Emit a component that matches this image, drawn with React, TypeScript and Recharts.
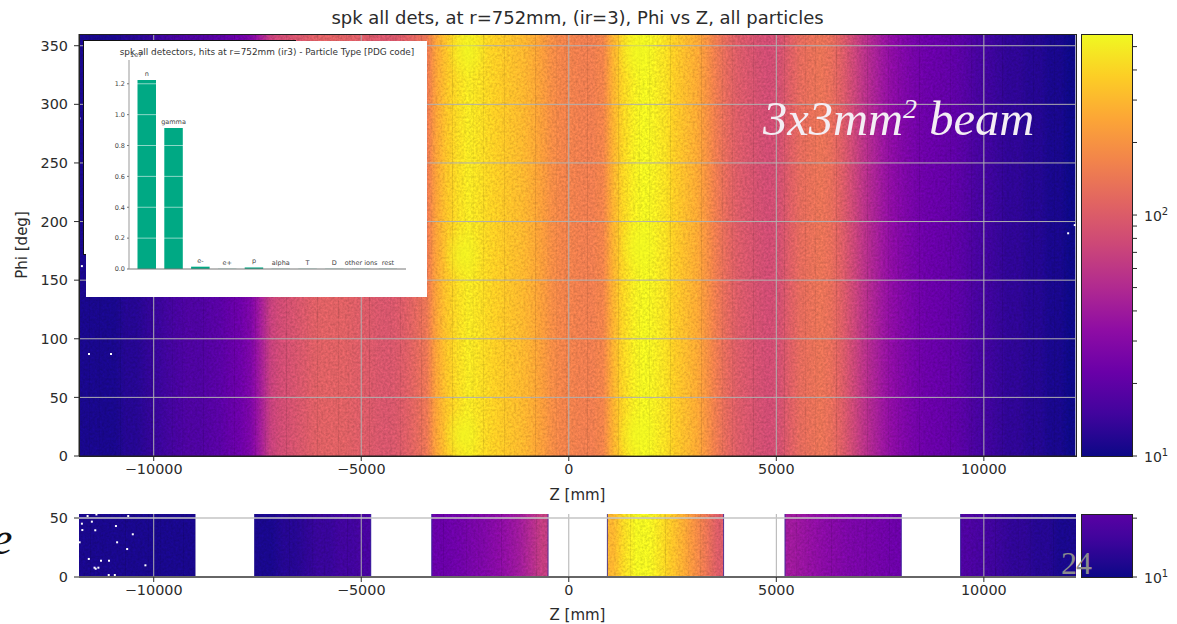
import React from 'react';
import {
  Bar,
  BarChart,
  ComposedChart,
  LabelList,
  ReferenceLine,
  Scatter,
  XAxis,
  YAxis,
} from 'recharts';

// hits per bin along Z, bins start at -11800mm and are 250mm wide
const mainFirstZ = -11800;
const mainBinWidth = 250;
const mainCounts = [
  11, 11, 11, 11, 12, 12, 13, 14, 15, 16, 17, 17, 18, 19, 21, 23, 27, 42, 69, 81,
  88, 95, 104, 108, 108, 108, 104, 100, 95, 92, 95, 104, 118, 143, 251, 348, 425, 480, 440, 400,
  365, 333, 308, 273, 232, 190, 168, 162, 155, 155, 168, 283, 408, 500, 545, 500, 440, 360, 308, 262,
  198, 148, 118, 100, 92, 85, 81, 85, 104, 122, 131, 137, 127, 104, 78, 59, 47, 38, 32, 28,
  25, 23, 22, 21, 20, 18, 16, 15, 14, 13, 13, 12, 12, 11, 11, 10,
];
const hotSpots = [
  { z: -2550, phi: 18 },
  { z: -2550, phi: 172 },
  { z: -2450, phi: 345 },
  { z: 1650, phi: 18 },
  { z: 1700, phi: 178 },
  { z: 1650, phi: 345 },
];
const mainSpecks = [
  { z: -11559, phi: 87 },
  { z: -11029, phi: 87 },
  { z: 12031, phi: 190 },
  { z: 12190, phi: 197 },
  { z: -11790, phi: 288 },
  { z: -11730, phi: 162 },
];

// lower panel: six detector stations, ten 280mm bins each
const stationStarts = [-11800, -7570, -3300, 930, 5210, 9440];
const stationBinWidth = 280;
const stationCounts = [
  [11, 11, 11, 11, 11, 11, 11, 11, 11, 11],
  [11, 11, 12, 12, 13, 14, 14, 15, 15, 16],
  [22, 23, 24, 26, 28, 31, 35, 40, 50, 66],
  [290, 430, 540, 540, 450, 350, 270, 195, 140, 100],
  [40, 37, 34, 31, 29, 27, 26, 25, 24, 23],
  [17, 16, 15, 14, 13, 13, 12, 12, 11, 11],
];
const lowerSpecks = [
  { z: -11593, phi: 51.7 }, { z: -11380, phi: 53 }, { z: -10614, phi: 51.7 },
  { z: -11490, phi: 46.9 }, { z: -11730, phi: 45.2 }, { z: -10910, phi: 43.2 },
  { z: -11720, phi: 39.8 }, { z: -11408, phi: 39.6 }, { z: -10504, phi: 36.2 },
  { z: -11785, phi: 29.4 }, { z: -10882, phi: 29.4 }, { z: -10640, phi: 23.7 },
  { z: -11564, phi: 15.3 }, { z: -11270, phi: 13.8 }, { z: -11077, phi: 13.8 },
  { z: -11426, phi: 7.9 }, { z: -11398, phi: 7 }, { z: -11333, phi: 7.9 },
  { z: -10200, phi: 9.9 }, { z: -11084, phi: 1.7 }, { z: -10937, phi: 1.7 },
];

const zTicks = [-10000, -5000, 0, 5000, 10000];
const phiTicks = [0, 50, 100, 150, 200, 250, 300, 350];
const lowerPhiTicks = [0, 50];
const cbarTicks = [10, 20, 30, 40, 50, 60, 70, 80, 90, 100, 200, 300, 400, 500];
const lowerCbarTicks = [10, 20];

// inset: particle types
const particleNames = ['n', 'gamma', 'e-', 'e+', 'p', 'alpha', 'T', 'D', 'other ions', 'rest'];
const particleHits = [1.225, 0.913, 0.015, 0.001, 0.01, 0.001, 0.001, 0.001, 0.001, 0.001];
const insetTicks = [0, 0.2, 0.4, 0.6, 0.8, 1.0, 1.2];

const plasma = ['#0d0887', '#41049d', '#6a00a8', '#8f0da4', '#b12a90', '#cc4778', '#e16462', '#f2844b', '#fca636', '#fcce25', '#f0f921'];
const vMin = 10;
const vMax = 564;
const zDomain = [-11800, 12220];
const mmToPx = 997 / (zDomain[1] - zDomain[0]);
const FONT = '"DejaVu Sans", sans-serif';
const INK = '#2b2b2b';

const hex = (c: string) => [1, 3, 5].map((i) => parseInt(c.slice(i, i + 2), 16));
const plasmaAt = (t: number) => {
  const p = Math.min(Math.max(t, 0), 1) * 10;
  const i = Math.min(Math.floor(p), 9);
  const a = hex(plasma[i]);
  const b = hex(plasma[i + 1]);
  return `rgb(${a.map((v, k) => Math.round(v + (b[k] - v) * (p - i))).join(',')})`;
};
const toT = (v: number) => Math.log(v / vMin) / Math.log(vMax / vMin);

const binRows = (counts: number[], start: number, width: number, span: number, prefix: string) =>
  counts.map((count, i) => ({
    id: `${prefix}${i}`,
    z: start + width / 2 + i * width,
    span,
    t: toT(count),
    before: toT(counts[Math.max(i - 1, 0)]),
    after: toT(counts[Math.min(i + 1, counts.length - 1)]),
  }));

const mainRows = binRows(mainCounts, mainFirstZ, mainBinWidth, 360, 'm');
const lowerRows = stationCounts.flatMap((counts, s) =>
  binRows(counts, stationStarts[s], stationBinWidth, 53.4, `s${s}_`),
);
const stationEdges = stationStarts.slice(1).flatMap((s) => [s, s + stationBinWidth * 10]);

const gradients = (rows: typeof mainRows) =>
  rows.map((r) => (
    <linearGradient key={r.id} id={r.id} x1="0" x2="1" y1="0" y2="0">
      <stop offset="0" stopColor={plasmaAt((r.t + r.before) / 2)} />
      <stop offset="0.5" stopColor={plasmaAt(r.t)} />
      <stop offset="1" stopColor={plasmaAt((r.t + r.after) / 2)} />
    </linearGradient>
  ));

// the bar keeps its centre from the z scale, the width is the bin width in pixels
const heatCell = (binMm: number) => (p: any) => {
  const w = binMm * mmToPx + 0.4;
  return <rect x={p.x + p.width / 2 - w / 2} y={p.y} width={w} height={p.height} fill={`url(#${p.payload.id})`} />;
};
const Speck = (p: any) => <rect x={p.cx - 1} y={p.cy - 1} width={2} height={2} fill="#fff" />;
const HotSpot = (p: any) => <ellipse cx={p.cx} cy={p.cy} rx={20} ry={30} fill="url(#hot)" />;

const axisTick = { fill: INK, fontSize: 14.4, fontFamily: FONT };
const zFormat = (v: number) => (v < 0 ? `\u2212${-v}` : `${v}`);

const PowerTick = (p: any) => {
  const exp = p.payload.value === 10 ? '1' : p.payload.value === 100 ? '2' : null;
  if (!exp) return null;
  return (
    <text x={p.x + 4} y={p.y + 6} fill={INK} fontSize={14} fontFamily={FONT}>
      10
      <tspan dy={-6} fontSize={10}>{exp}</tspan>
    </text>
  );
};

const BarName = (p: any) => (
  <text x={p.x + p.width / 2} y={p.y - 4} textAnchor="middle" fill="#444" fontSize={6.5} fontFamily={FONT}>
    {p.value}
  </text>
);

const Colorbar = ({ top, height, max, ticks, id, tMax }: any) => (
  <div style={{ position: 'absolute', left: 1081, top }}>
    <BarChart
      width={96}
      height={height + 10}
      data={[{ name: 'cb', top: max }]}
      margin={{ top: 0, right: 0, bottom: 10, left: 0 }}
      barCategoryGap={0}
    >
      <defs>
        <linearGradient id={id} x1="0" x2="0" y1="1" y2="0">
          {[0, 0.1, 0.2, 0.3, 0.4, 0.5, 0.6, 0.7, 0.8, 0.9, 1].map((o) => (
            <stop key={o} offset={o} stopColor={plasmaAt(o * tMax)} />
          ))}
        </linearGradient>
      </defs>
      <XAxis dataKey="name" hide />
      <YAxis
        orientation="right"
        width={45}
        scale="log"
        domain={[10, max]}
        allowDataOverflow
        ticks={ticks}
        interval={0}
        tick={<PowerTick />}
        tickSize={5}
        tickMargin={3}
        tickLine={{ stroke: INK }}
        axisLine={false}
      />
      <Bar dataKey="top" fill={`url(#${id})`} isAnimationActive={false} />
    </BarChart>
    <div style={{ position: 'absolute', left: 0, top: 0, width: 50, height: height - 1, border: '1px solid #222' }} />
  </div>
);

const insetRows = particleNames.map((name, i) => ({ name, hits: particleHits[i] }));

const Inset = () => (
  <div style={{ position: 'absolute', left: 86, top: 41, width: 341, height: 256, background: '#fff' }}>
    <BarChart
      width={341}
      height={256}
      data={insetRows}
      margin={{ top: 19, right: 21, bottom: 27, left: 18 }}
    >
      <XAxis
        dataKey="name"
        tick={false}
        tickLine={false}
        height={1}
        padding={{ left: 4.5, right: 4.5 }}
        axisLine={{ stroke: '#777' }}
      />
      <YAxis
        width={25}
        domain={[0, 1.354]}
        ticks={insetTicks}
        interval={0}
        allowDataOverflow
        tickFormatter={(v: number) => v.toFixed(1)}
        tick={{ fill: '#444', fontSize: 6.5, fontFamily: FONT }}
        tickSize={2}
        tickMargin={2}
        tickLine={{ stroke: '#777' }}
        axisLine={{ stroke: '#999' }}
      />
      <Bar dataKey="hits" fill="#00a984" barSize={18.5} isAnimationActive={false}>
        <LabelList dataKey="name" content={BarName} />
      </Bar>
      {insetTicks.slice(1).map((v) => (
        <ReferenceLine key={v} y={v} stroke="#fff" strokeOpacity={0.55} />
      ))}
    </BarChart>
    <div style={{ position: 'absolute', left: 0, top: 6, width: 362, textAlign: 'center', font: `8.9px ${FONT}`, color: '#333', whiteSpace: 'nowrap' }}>
      spk all detectors, hits at r=752mm (ir3) - Particle Type [PDG code]
    </div>
    <div style={{ position: 'absolute', left: 44, top: 10, font: `6.5px ${FONT}`, color: '#444' }}>1e7</div>
  </div>
);

export default function App() {
  return (
    <div style={{ position: 'absolute', left: 0, top: 0, width: 1177, height: 624, overflow: 'hidden', background: '#fff' }}>
      <style>{'.grain .recharts-bar-rectangles{filter:url(#grain)}'}</style>

      <div style={{ position: 'absolute', left: 0, top: 7, width: 1155, textAlign: 'center', font: `18px ${FONT}`, color: INK, whiteSpace: 'nowrap' }}>
        spk all dets, at r=752mm, (ir=3), Phi vs Z, all particles
      </div>

      <div className="grain" style={{ position: 'absolute', left: 0, top: 0 }}>
        <ComposedChart
          width={1177}
          height={506}
          data={mainRows}
          margin={{ top: 34, right: 101, bottom: 0, left: 19 }}
        >
          <defs>
            {gradients(mainRows)}
            <radialGradient id="hot">
              <stop offset="0" stopColor="#f0f921" stopOpacity={0.7} />
              <stop offset="1" stopColor="#f0f921" stopOpacity={0} />
            </radialGradient>
            <filter id="grain" x="0" y="0" width="100%" height="100%" colorInterpolationFilters="sRGB">
              <feTurbulence type="fractalNoise" baseFrequency="0.42" numOctaves={2} seed={4} />
              <feColorMatrix type="matrix" values="1 0 0 0 0 1 0 0 0 0 1 0 0 0 0 0 0 0 0 1" result="n" />
              <feComposite in="SourceGraphic" in2="n" operator="arithmetic" k1={0.3} k2={0.85} k3={0} k4={0} />
            </filter>
          </defs>
          <XAxis
            dataKey="z"
            type="number"
            domain={zDomain}
            allowDataOverflow
            ticks={zTicks}
            interval={0}
            height={50}
            tick={axisTick}
            tickFormatter={zFormat}
            tickSize={5}
            tickMargin={3}
            tickLine={{ stroke: INK }}
            axisLine={{ stroke: '#222' }}
            label={{ value: 'Z [mm]', position: 'insideBottom', offset: 6, fill: INK, fontSize: 15, fontFamily: FONT }}
          />
          <YAxis
            width={60}
            domain={[0, 360]}
            allowDataOverflow
            ticks={phiTicks}
            interval={0}
            tick={axisTick}
            tickSize={5}
            tickMargin={6}
            tickLine={{ stroke: INK }}
            axisLine={{ stroke: '#222' }}
            label={{ value: 'Phi [deg]', angle: -90, position: 'insideLeft', offset: 3, fill: INK, fontSize: 15, fontFamily: FONT, style: { textAnchor: 'middle' } }}
          />
          <Bar dataKey="span" barSize={mainBinWidth * mmToPx} shape={heatCell(mainBinWidth)} isAnimationActive={false} />
          <Scatter data={hotSpots} dataKey="phi" shape={HotSpot} isAnimationActive={false} />
          <Scatter data={mainSpecks} dataKey="phi" shape={Speck} isAnimationActive={false} />
          {zTicks.map((v) => (
            <ReferenceLine key={v} x={v} stroke="#b0b0b0" />
          ))}
          {phiTicks.slice(1).map((v) => (
            <ReferenceLine key={v} y={v} stroke="#b0b0b0" />
          ))}
        </ComposedChart>
      </div>
      <div style={{ position: 'absolute', left: 79, top: 34, width: 996, height: 421, border: '1px solid #222' }} />

      <div style={{ position: 'absolute', left: 83, top: 40, width: 211, height: 213, border: '1px solid #111', background: '#fff' }} />
      <Inset />

      <div style={{ position: 'absolute', left: 763, top: 91, font: `italic 48.5px "Liberation Serif", serif`, color: '#f4eef4', whiteSpace: 'nowrap' }}>
        3x3mm<sup style={{ fontSize: 28, lineHeight: 0 }}>2</sup> beam
      </div>

      <Colorbar top={34} height={422} max={564} ticks={cbarTicks} id="cbMain" tMax={1} />

      <div className="grain" style={{ position: 'absolute', left: 0, top: 504 }}>
        <ComposedChart
          width={1177}
          height={120}
          data={lowerRows}
          margin={{ top: 10, right: 101, bottom: 0, left: 19 }}
        >
          <defs>{gradients(lowerRows)}</defs>
          <XAxis
            dataKey="z"
            type="number"
            domain={zDomain}
            allowDataOverflow
            ticks={zTicks}
            interval={0}
            height={47}
            tick={axisTick}
            tickFormatter={zFormat}
            tickSize={5}
            tickMargin={3}
            tickLine={{ stroke: INK }}
            axisLine={{ stroke: '#666', strokeWidth: 2 }}
            label={{ value: 'Z [mm]', position: 'insideBottom', offset: 4, fill: INK, fontSize: 15, fontFamily: FONT }}
          />
          <YAxis
            width={60}
            domain={[0, 53.4]}
            allowDataOverflow
            ticks={lowerPhiTicks}
            interval={0}
            tick={axisTick}
            tickSize={5}
            tickMargin={6}
            tickLine={{ stroke: INK }}
            axisLine={false}
          />
          <Bar dataKey="span" barSize={stationBinWidth * mmToPx} shape={heatCell(stationBinWidth)} isAnimationActive={false} />
          <Scatter data={lowerSpecks} dataKey="phi" shape={Speck} isAnimationActive={false} />
          {stationEdges.map((v) => (
            <ReferenceLine key={v} x={v} stroke="#3a2ca0" strokeOpacity={0.8} />
          ))}
          {zTicks.map((v) => (
            <ReferenceLine key={v} x={v} stroke="#b0b0b0" />
          ))}
          <ReferenceLine y={50} stroke="#c4c4c4" strokeWidth={1.5} />
        </ComposedChart>
      </div>

      <Colorbar top={514} height={63} max={21} ticks={lowerCbarTicks} id="cbLow" tMax={0.16} />

      <div style={{ position: 'absolute', left: 1061, top: 545, font: '32px "Liberation Serif", serif', color: '#8c8c8c', letterSpacing: -1 }}>24</div>
      <div style={{ position: 'absolute', left: -8, top: 512, font: 'italic 46px "Liberation Serif", serif', color: '#111' }}>e</div>
    </div>
  );
}
